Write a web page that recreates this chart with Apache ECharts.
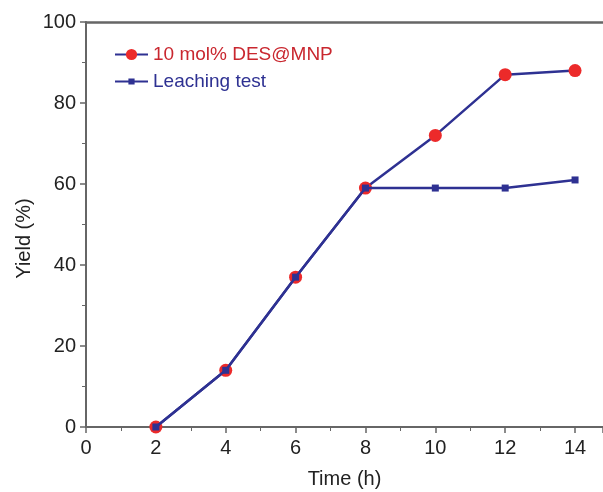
<!DOCTYPE html>
<html>
<head>
<meta charset="utf-8">
<script src="https://cdn.jsdelivr.net/npm/echarts@6/dist/echarts.min.js"></script>
<style>
  html, body { margin: 0; padding: 0; background: #fff; }
  #chart { width: 603px; height: 492px; }
</style>
</head>
<body>
<div id="chart"></div>
<script>
// data
const timeHours = [2, 4, 6, 8, 10, 12, 14];
const desMnpYield = [0, 14, 37, 59, 72, 87, 88];
const leachingYield = [0, 14, 37, 59, 59, 59, 61];
const seriesNames = ["10 mol% DES@MNP", "Leaching test"];

const navy = "#2E3192";
const red = "#EC2A2A";
const axisGrey = "#666";

const chart = echarts.init(document.getElementById("chart"));

const pairs = (xs, ys) => xs.map((x, i) => [x, ys[i]]);

// legend icon for the leaching series: thin line with a small square
const squareLineIcon = "path://M0,2 L13,2 L13,0 L19,0 L19,2 L32,2 L32,4 L19,4 L19,6 L13,6 L13,4 L0,4 Z";

const option = {
  backgroundColor: "#fff",
  animation: false,
  textStyle: { fontFamily: "Liberation Sans, Arial, sans-serif" },
  grid: { left: 86, right: 0, top: 22, bottom: 65, outerBoundsMode: "none" },
  legend: {
    left: 109,
    top: 40,
    orient: "vertical",
    itemWidth: 33,
    itemHeight: 14,
    itemGap: 8,
    textStyle: { fontSize: 19 },
    data: [
      { name: seriesNames[0], textStyle: { color: "#C9272F" } },
      { name: seriesNames[1], icon: squareLineIcon, itemStyle: { color: navy }, textStyle: { color: navy } },
    ],
  },
  xAxis: [
    {
      type: "value",
      min: 0,
      max: 14.8,
      interval: 2,
      name: "Time (h)",
      nameLocation: "middle",
      nameGap: 42,
      nameTextStyle: { fontSize: 20, color: "#222" },
      axisLine: { show: true, lineStyle: { color: axisGrey, width: 2 } },
      axisTick: { show: true, length: 6, lineStyle: { color: axisGrey, width: 1.5 } },
      minorTick: { show: true, splitNumber: 2, length: 4, lineStyle: { color: axisGrey } },
      axisLabel: {
        fontSize: 20,
        color: "#222",
        margin: 11,
        showMaxLabel: false,
        formatter: (v) => (v % 2 === 0 ? String(v) : ""),
      },
      splitLine: { show: false },
    },
    {
      type: "value",
      position: "top",
      min: 0,
      max: 14.8,
      axisLine: { show: true, lineStyle: { color: axisGrey, width: 2.5 } },
      axisTick: { show: false },
      axisLabel: { show: false },
      splitLine: { show: false },
    },
  ],
  yAxis: {
    type: "value",
    min: 0,
    max: 100,
    interval: 20,
    name: "Yield (%)",
    nameLocation: "middle",
    nameGap: 52,
    nameMoveOverlap: false,
    nameTextStyle: { fontSize: 20, color: "#222", padding: [0, 28, 0, 0] },
    axisLine: { show: true, lineStyle: { color: axisGrey, width: 2 } },
    axisTick: { show: true, length: 6, lineStyle: { color: axisGrey, width: 1.5 } },
    minorTick: { show: true, splitNumber: 2, length: 4, lineStyle: { color: axisGrey } },
    axisLabel: { fontSize: 20, color: "#222", margin: 10 },
    splitLine: { show: false },
  },
  series: [
    {
      name: seriesNames[0],
      type: "line",
      data: pairs(timeHours, desMnpYield),
      symbol: "circle",
      symbolSize: 13,
      lineStyle: { color: navy, width: 2.5 },
      itemStyle: { color: red, borderWidth: 0 },
      z: 2,
    },
    {
      name: seriesNames[1],
      type: "line",
      data: pairs(timeHours, leachingYield),
      symbol: "rect",
      symbolSize: 7,
      lineStyle: { color: navy, width: 2.5 },
      itemStyle: { color: navy },
      z: 3,
    },
  ],
};

chart.setOption(option);
window.addEventListener("resize", () => chart.resize());
</script>
</body>
</html>
